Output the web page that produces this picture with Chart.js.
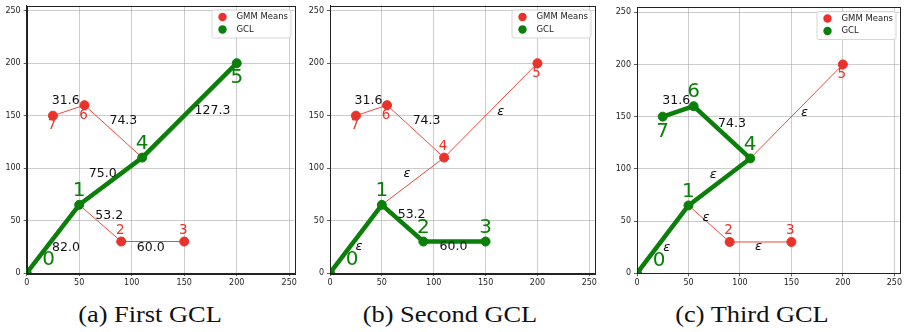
<!DOCTYPE html>
<html>
<head>
<meta charset="utf-8">
<script src="https://cdn.jsdelivr.net/npm/chart.js@4.4.0/dist/chart.umd.min.js"></script>
<style>
  body { margin: 0; background: #fff; width: 905px; height: 332px; position: relative; overflow: hidden; }
  canvas { position: absolute; top: 0; }
  .cap { position: absolute; top: 301px; font-family: "Liberation Serif", serif; font-size: 24px; color: #111;
         width: 300px; text-align: center; transform: scaleX(1.1); }
</style>
</head>
<body>
<canvas id="c0" width="300" height="292" style="left:0px"></canvas>
<canvas id="c1" width="300" height="292" style="left:300px"></canvas>
<canvas id="c2" width="305" height="292" style="left:600px"></canvas>
<div class="cap" style="left:0px">(a) First GCL</div>
<div class="cap" style="left:300px">(b) Second GCL</div>
<div class="cap" style="left:602px">(c) Third GCL</div>
<script>
// data
const tickValues = [0, 50, 100, 150, 200, 250];
const nodeX = [0, 50, 90, 150, 110, 200, 55, 25];
const nodeY = [0, 65, 30, 30, 110, 200, 160, 150];
const edgeFrom = [0, 1, 2, 1, 4, 4, 6];
const edgeTo   = [1, 2, 3, 4, 5, 6, 7];
const gclPaths = [[0, 1, 4, 5], [0, 1, 2, 3], [0, 1, 4, 6, 7]];
const edgeTexts = [
  ['82.0', '53.2', '60.0', '75.0', '127.3', '74.3', '31.6'],
  ['ε', '53.2', '60.0', 'ε', 'ε', '74.3', '31.6'],
  ['ε', 'ε', 'ε', 'ε', 'ε', '74.3', '31.6']
];
const seriesNames = ['GMM Means', 'GCL'];

// look
const RED = '#e8322a', RED_LINE = '#f0473c', GREEN = '#0a7f0a';
const panels = [
  { id: 'c0', yw: 26.7, right: 4.7, top: 3, bottom: 273 },
  { id: 'c1', yw: 30, right: 4, top: 3, bottom: 273 },
  { id: 'c2', yw: 37, right: 2, top: 7, bottom: 273.3 }
];
// where the node number sits: ur = up-right, a = above, b = below
const nodePlace = [
  ['ur', 'a', 'a', 'a', 'a', 'b', 'b', 'b'],
  ['ur', 'a', 'a', 'a', 'a', 'b', 'b', 'b'],
  ['ur', 'a', 'a', 'a', 'a', 'b', 'a', 'b']
];
const edgeOffsets = [
  [[13, 9], [9, -7], [-2, 6], [-8, -7], [23, 0], [10, -11], [-3, -10]],
  [[3, 8], [9, -8], [-1, 5], [-6, -8], [10, 1], [11, -11], [-3, -10]],
  [[4, 8], [-3, -6], [-2, 5], [-6, -7], [8, 1], [10, -9], [-2, -11]]
];

const frame = {
  id: 'frame',
  afterDraw(chart) {
    const a = chart.chartArea, ctx = chart.ctx;
    ctx.save();
    ctx.strokeStyle = '#222';
    ctx.lineWidth = 1;
    ctx.strokeRect(Math.round(a.left) + 0.5, Math.round(a.top) + 0.5, Math.round(a.right - a.left), Math.round(a.bottom - a.top));
    ctx.restore();
  }
};

const labels = {
  id: 'labels',
  afterDatasetsDraw(chart, args, opts) {
    const p = opts.panel, ctx = chart.ctx;
    const xs = chart.scales.x, ys = chart.scales.y;
    const gcl = gclPaths[p];
    ctx.save();
    ctx.textAlign = 'center';
    ctx.textBaseline = 'middle';
    // edge labels
    for (let e = 0; e < edgeFrom.length; e++) {
      const mx = (xs.getPixelForValue(nodeX[edgeFrom[e]]) + xs.getPixelForValue(nodeX[edgeTo[e]])) / 2;
      const my = (ys.getPixelForValue(nodeY[edgeFrom[e]]) + ys.getPixelForValue(nodeY[edgeTo[e]])) / 2;
      const t = edgeTexts[p][e];
      ctx.fillStyle = '#111';
      ctx.font = t === 'ε' ? 'italic 13px "DejaVu Sans"' : '12.5px "DejaVu Sans"';
      ctx.fillText(t, mx + edgeOffsets[p][e][0], my + edgeOffsets[p][e][1]);
    }
    // node numbers
    for (let n = 0; n < nodeX.length; n++) {
      const px = xs.getPixelForValue(nodeX[n]), py = ys.getPixelForValue(nodeY[n]);
      const green = gcl.includes(n);
      const pl = nodePlace[p][n];
      let dx = 0, dy;
      if (pl === 'ur') { dx = 22; dy = -13; }
      else if (green) dy = pl === 'a' ? -14 : 15;
      else { dx = -1; dy = pl === 'a' ? -11 : 10; }
      ctx.fillStyle = green ? GREEN : RED;
      ctx.font = green ? '20px "DejaVu Sans"' : '13.5px "DejaVu Sans"';
      ctx.fillText(String(n), px + dx, py + dy);
    }
    ctx.restore();
  }
};

const boxLegend = {
  id: 'boxLegend',
  afterDraw(chart) {
    const a = chart.chartArea, ctx = chart.ctx;
    const w = 79, h = 28;
    const x0 = a.right - 4 - w, y0 = a.top + 4;
    ctx.save();
    ctx.fillStyle = 'rgba(255,255,255,0.85)';
    ctx.strokeStyle = '#d6d6d6';
    ctx.lineWidth = 1;
    ctx.beginPath();
    ctx.roundRect(x0 + 0.5, y0 + 0.5, w, h, 2);
    ctx.fill();
    ctx.stroke();
    const cols = [RED, GREEN];
    ctx.font = '8.5px "DejaVu Sans"';
    ctx.textBaseline = 'middle';
    ctx.textAlign = 'left';
    seriesNames.forEach((s, i) => {
      const y = y0 + 7.5 + i * 12.5;
      ctx.fillStyle = cols[i];
      ctx.beginPath();
      ctx.arc(x0 + 11, y, 4.2, 0, Math.PI * 2);
      ctx.fill();
      ctx.fillStyle = '#222';
      ctx.fillText(s, x0 + 25, y);
    });
    ctx.restore();
  }
};

function pt(n) { return { x: nodeX[n], y: nodeY[n] }; }

panels.forEach((pn, p) => {
  const gcl = gclPaths[p];
  const datasets = [];
  // thin red edges not on the GCL
  for (let e = 0; e < edgeFrom.length; e++) {
    const ia = gcl.indexOf(edgeFrom[e]), ib = gcl.indexOf(edgeTo[e]);
    if (ia >= 0 && ib >= 0 && Math.abs(ia - ib) === 1) continue;
    datasets.push({
      label: 'edge', data: [pt(edgeFrom[e]), pt(edgeTo[e])], showLine: true,
      borderColor: RED_LINE, borderWidth: 1, pointRadius: 0, order: 4
    });
  }
  datasets.push({
    label: 'path', data: gcl.map(pt), showLine: true, borderColor: GREEN,
    borderWidth: 4.5, borderCapStyle: 'round', borderJoinStyle: 'round', pointRadius: 0, order: 3
  });
  datasets.push({
    label: seriesNames[0], data: nodeX.map((v, n) => n).filter(n => !gcl.includes(n)).map(pt),
    backgroundColor: RED, borderColor: RED, pointRadius: 4.5, order: 2
  });
  datasets.push({
    label: seriesNames[1], data: gcl.map(pt),
    backgroundColor: GREEN, borderColor: GREEN, pointRadius: 4.5, order: 1
  });

  const axisCommon = {
    type: 'linear', min: 0, max: 255,
    afterBuildTicks: s => { s.ticks = tickValues.map(v => ({ value: v })); },
    grid: { color: 'rgba(170,170,170,0.75)', lineWidth: 0.8, tickLength: 3, tickColor: '#333' },
    border: { color: '#222', width: 1 },
    ticks: { color: '#222', font: { family: 'DejaVu Sans', size: 8 }, padding: 2 }
  };

  new Chart(document.getElementById(pn.id), {
    type: 'scatter',
    data: { datasets },
    options: {
      responsive: false,
      animation: false,
      layout: { padding: { left: 0, right: pn.right, top: pn.top, bottom: 0 } },
      plugins: { legend: { display: false }, tooltip: { enabled: false }, labels: { panel: p } },
      scales: {
        x: Object.assign({}, axisCommon, {
          afterFit: s => { s.height = 292 - pn.bottom; s.paddingLeft = 0; s.paddingRight = 0; }
        }),
        y: Object.assign({}, axisCommon, {
          afterFit: s => { s.width = pn.yw; s.paddingTop = 0; s.paddingBottom = 0; },
          ticks: Object.assign({}, axisCommon.ticks, { padding: 3 })
        })
      }
    },
    plugins: [frame, labels, boxLegend]
  });
});
</script>
</body>
</html>
